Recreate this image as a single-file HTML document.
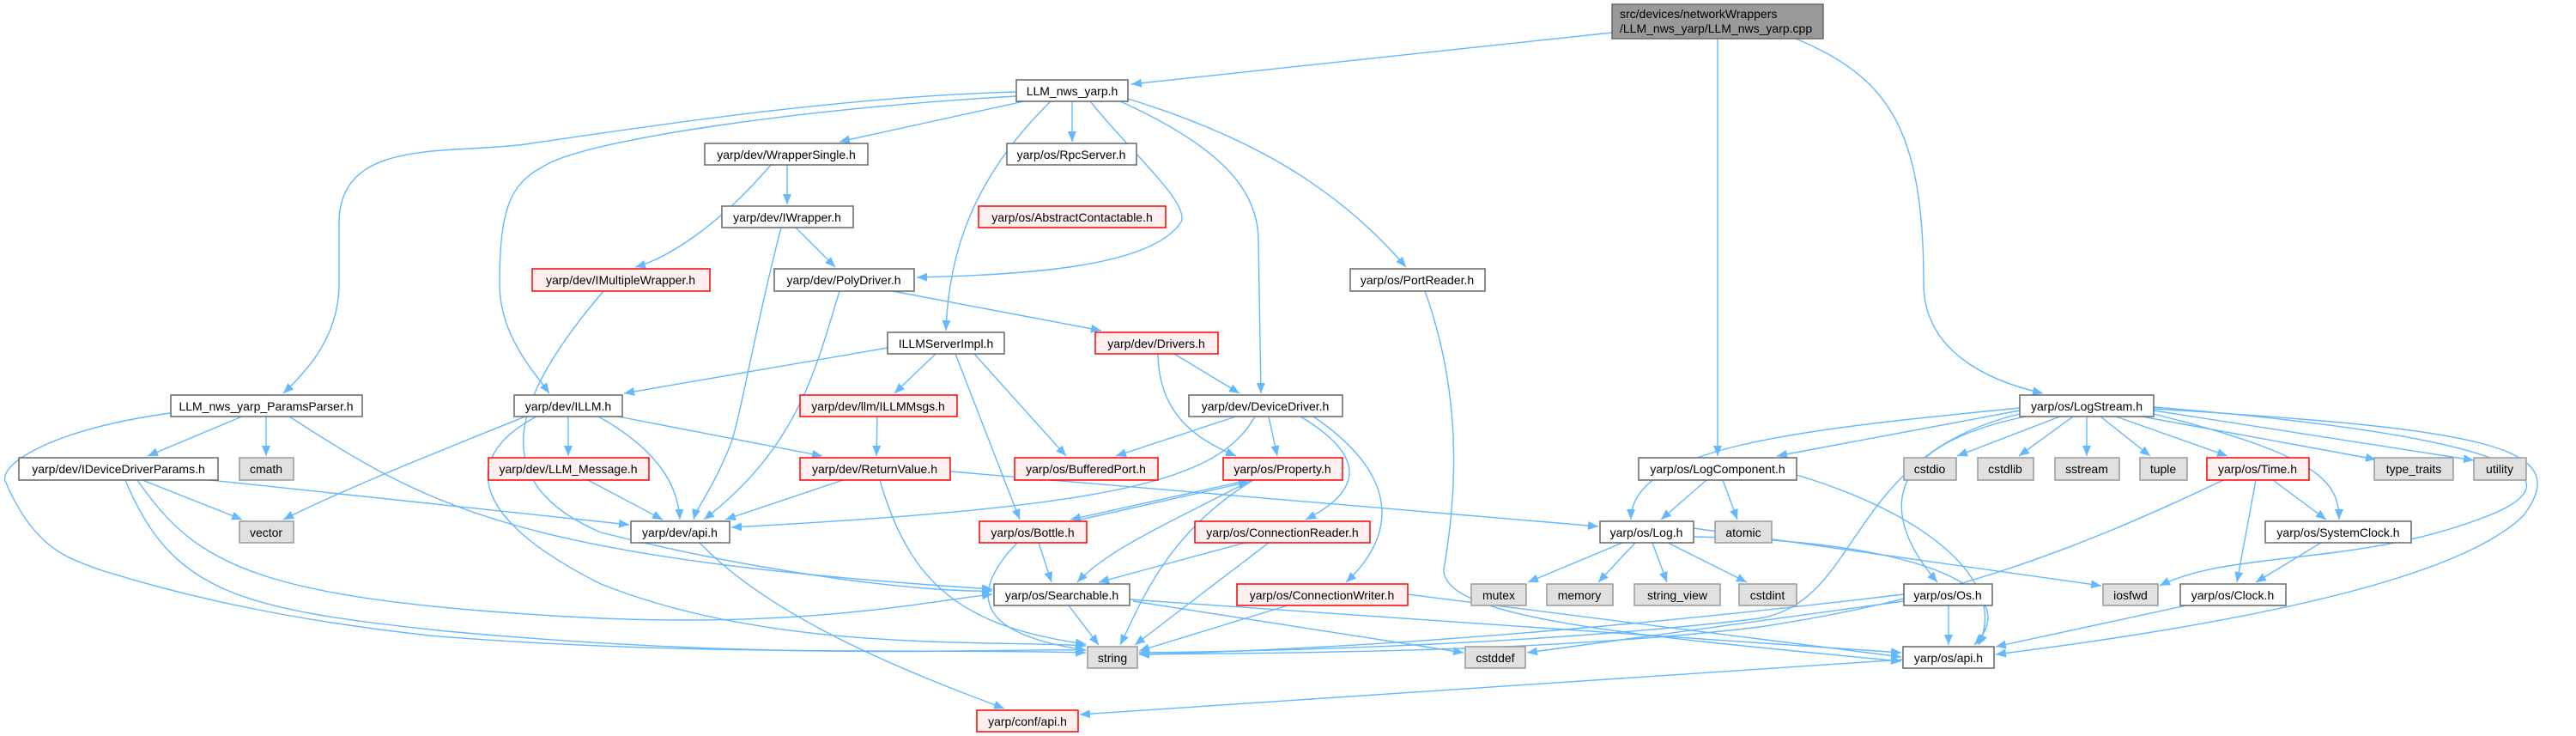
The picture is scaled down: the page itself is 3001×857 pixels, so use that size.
<!DOCTYPE html>
<html><head><meta charset="utf-8"><style>
html,body{margin:0;padding:0;background:#fff;}
svg{display:block;}
text{font-family:"Liberation Sans",sans-serif;font-size:14px;fill:#000;}
.e{fill:none;stroke:#63b8ff;stroke-width:1.4;marker-end:url(#a);}
.n rect{fill:#fff;stroke:#666;stroke-width:1.5;}
.r rect{fill:#fff0f0;stroke:#f00;stroke-width:1.5;}
.g rect{fill:#e0e0e0;stroke:#999;stroke-width:1.5;}
</style></head><body>
<svg width="3001" height="857" viewBox="0 0 3001 857" xmlns="http://www.w3.org/2000/svg">
<defs><marker id="a" markerUnits="userSpaceOnUse" markerWidth="14" markerHeight="12" refX="12" refY="5" orient="auto"><path d="M0,0 L12,5 L0,10 z" fill="#63b8ff"/></marker></defs>
<g>
<!-- main -->
<path class="e" d="M1878,38 L1318,98"/>
<path class="e" d="M2001,45 L2001,531"/>
<path class="e" d="M2092,45 C2200,90 2241,150 2241,330 C2241,400 2300,440 2380,458"/>
<!-- LLM_nws_yarp.h -->
<path class="e" d="M1184,107 C1000,112 800,140 612,168 C520,180 395,160 395,260 L395,330 C395,390 360,430 330,458"/>
<path class="e" d="M1184,112 C950,125 700,160 640,190 C600,210 582,230 582,330 C582,390 620,430 640,458"/>
<path class="e" d="M1193,118 L978,165"/>
<path class="e" d="M1249,118 L1249,165"/>
<path class="e" d="M1224,118 C1130,210 1105,300 1102,385"/>
<path class="e" d="M1270,118 C1320,180 1390,240 1375,260 C1340,310 1200,320 1068,323"/>
<path class="e" d="M1305,118 C1420,170 1466,220 1466,280 L1469,458"/>
<path class="e" d="M1314,115 C1460,160 1560,220 1638,311"/>
<!-- WrapperSingle -->
<path class="e" d="M917,192 L917,238"/>
<path class="e" d="M898,192 C840,260 780,300 740,311"/>
<!-- IWrapper -->
<path class="e" d="M927,265 L973,311"/>
<path class="e" d="M910,265 C880,380 860,500 850,520 C830,570 812,590 808,605"/>
<!-- IMultipleWrapper -->
<path class="e" d="M703,339 C600,460 560,560 700,620 C900,670 1080,690 1156,688"/>
<!-- PolyDriver -->
<path class="e" d="M1040,339 L1283,385"/>
<path class="e" d="M978,339 C950,430 930,520 820,605"/>
<!-- ParamsParser -->
<path class="e" d="M282,485 L172,531"/>
<path class="e" d="M310,485 L310,531"/>
<path class="e" d="M337,485 C500,590 600,650 1156,686"/>
<path class="e" d="M198,481 C60,500 0,540 6,560 C40,640 80,650 115,663 C200,690 320,720 500,740 C800,765 1100,755 1265,760"/>
<!-- IDeviceDriverParams -->
<path class="e" d="M166,559 L282,605"/>
<path class="e" d="M245,559 L733,611"/>
<path class="e" d="M160,559 C230,660 300,700 700,720 C950,730 1080,700 1156,692"/>
<path class="e" d="M146,559 C200,690 280,710 520,735 C900,770 1150,755 1265,757"/>
<!-- ILLM -->
<path class="e" d="M612,485 C500,530 400,570 330,605"/>
<path class="e" d="M662,485 L662,531"/>
<path class="e" d="M697,485 C760,520 790,560 792,605"/>
<path class="e" d="M720,485 L958,531"/>
<path class="e" d="M625,485 C540,530 540,600 700,680 C900,760 1150,745 1265,752"/>
<!-- LLM_Message -->
<path class="e" d="M685,559 L772,605"/>
<!-- ReturnValue -->
<path class="e" d="M982,559 L845,605"/>
<path class="e" d="M1107,549 L1862,613"/>
<path class="e" d="M1025,559 C1060,680 1120,730 1265,750"/>
<!-- ILLMMsgs -->
<path class="e" d="M1022,485 L1021,531"/>
<!-- ILLMServerImpl -->
<path class="e" d="M1034,405 L727,458"/>
<path class="e" d="M1090,412 L1042,458"/>
<path class="e" d="M1113,412 L1188,605"/>
<path class="e" d="M1135,412 L1242,531"/>
<!-- Drivers -->
<path class="e" d="M1368,412 L1444,458"/>
<path class="e" d="M1349,412 C1350,480 1390,510 1440,531"/>
<!-- DeviceDriver -->
<path class="e" d="M1440,485 L1300,531"/>
<path class="e" d="M1462,485 C1420,560 1300,590 852,614"/>
<path class="e" d="M1478,485 L1488,531"/>
<path class="e" d="M1515,485 C1590,530 1590,570 1521,605"/>
<path class="e" d="M1530,485 C1640,560 1620,630 1568,678"/>
<!-- Property -->
<path class="e" d="M1455,559 L1247,605"/>
<path class="e" d="M1250,607 L1455,561"/>
<path class="e" d="M1458,559 C1360,610 1290,640 1255,678"/>
<path class="e" d="M1460,559 C1360,620 1330,700 1305,751"/>
<!-- Bottle -->
<path class="e" d="M1210,632 L1225,678"/>
<path class="e" d="M1185,632 C1120,700 1150,740 1265,757"/>
<!-- ConnectionReader -->
<path class="e" d="M1450,632 L1280,678"/>
<path class="e" d="M1478,632 L1322,751"/>
<!-- Searchable -->
<path class="e" d="M1245,705 L1280,751"/>
<path class="e" d="M1320,700 L1705,760"/>
<path class="e" d="M1316,698 L2215,760"/>
<!-- ConnectionWriter -->
<path class="e" d="M1500,705 L1327,758"/>
<path class="e" d="M1640,692 L2215,765"/>
<!-- dev/api -->
<path class="e" d="M815,632 C900,720 1050,780 1170,825"/>
<!-- PortReader -->
<path class="e" d="M1660,339 C1700,450 1700,560 1682,663 C1680,720 1900,740 2215,770"/>
<!-- LogComponent -->
<path class="e" d="M1988,559 L1935,605"/>
<path class="e" d="M2007,559 L2024,605"/>
<path class="e" d="M2093,553 C2250,600 2340,680 2305,751"/>
<!-- Log.h -->
<path class="e" d="M1890,632 L1780,678"/>
<path class="e" d="M1905,632 L1862,678"/>
<path class="e" d="M1925,632 L1942,678"/>
<path class="e" d="M1943,632 L2035,678"/>
<path class="e" d="M1973,615 L2448,682"/>
<path class="e" d="M1973,625 C2250,630 2360,690 2300,751"/>
<!-- LogStream -->
<path class="e" d="M2353,478 L2070,531"/>
<path class="e" d="M2353,475 C2100,500 1900,520 1900,605"/>
<path class="e" d="M2400,485 L2280,531"/>
<path class="e" d="M2415,485 L2352,531"/>
<path class="e" d="M2431,485 L2431,531"/>
<path class="e" d="M2447,485 L2505,531"/>
<path class="e" d="M2465,485 L2595,531"/>
<path class="e" d="M2495,485 L2768,535"/>
<path class="e" d="M2509,478 L2882,536"/>
<path class="e" d="M2509,482 C2700,530 2725,560 2725,605"/>
<path class="e" d="M2360,485 C2190,520 2190,600 2257,678"/>
<path class="e" d="M2353,482 C2150,530 2170,700 2050,720 C1800,750 1500,758 1327,760"/>
<path class="e" d="M2509,476 C2900,500 3000,520 2940,600 C2850,690 2500,740 2325,762"/>
<path class="e" d="M2509,474 C2950,510 3000,560 2900,600 C2750,660 2600,640 2516,682"/>
<!-- Time -->
<path class="e" d="M2590,559 C2400,650 2250,700 2050,730 C1800,760 1500,760 1327,762"/>
<path class="e" d="M2628,559 L2606,678"/>
<path class="e" d="M2648,559 L2710,605"/>
<!-- SystemClock -->
<path class="e" d="M2704,632 L2628,678"/>
<!-- Clock -->
<path class="e" d="M2547,705 L2325,753"/>
<!-- Os.h -->
<path class="e" d="M2270,705 L2270,751"/>
<path class="e" d="M2218,692 C1900,730 1600,755 1327,762"/>
<path class="e" d="M2218,700 L1779,760"/>
<!-- os/api -->
<path class="e" d="M2217,768 L1258,832"/>
</g>

<!-- nodes -->
<g><rect x="1878" y="5" width="246" height="40" fill="#999" stroke="#666" stroke-width="1.5"/>
<text x="1887" y="21">src/devices/networkWrappers</text><text x="1887" y="38">/LLM_nws_yarp/LLM_nws_yarp.cpp</text></g>

<g class="n"><rect x="1184" y="93" width="130" height="25"/><text x="1249" y="111" text-anchor="middle">LLM_nws_yarp.h</text></g>
<g class="n"><rect x="821" y="167" width="190" height="25"/><text x="916" y="185" text-anchor="middle">yarp/dev/WrapperSingle.h</text></g>
<g class="n"><rect x="1173" y="167" width="151" height="25"/><text x="1248" y="185" text-anchor="middle">yarp/os/RpcServer.h</text></g>
<g class="n"><rect x="841" y="240" width="153" height="25"/><text x="917" y="258" text-anchor="middle">yarp/dev/IWrapper.h</text></g>
<g class="r"><rect x="1140" y="240" width="218" height="25"/><text x="1249" y="258" text-anchor="middle">yarp/os/AbstractContactable.h</text></g>
<g class="r"><rect x="620" y="313" width="207" height="26"/><text x="723" y="331" text-anchor="middle">yarp/dev/IMultipleWrapper.h</text></g>
<g class="n"><rect x="902" y="313" width="163" height="26"/><text x="983" y="331" text-anchor="middle">yarp/dev/PolyDriver.h</text></g>
<g class="n"><rect x="1573" y="313" width="157" height="26"/><text x="1651" y="331" text-anchor="middle">yarp/os/PortReader.h</text></g>
<g class="n"><rect x="1034" y="387" width="136" height="25"/><text x="1102" y="405" text-anchor="middle">ILLMServerImpl.h</text></g>
<g class="r"><rect x="1276" y="387" width="143" height="25"/><text x="1347" y="405" text-anchor="middle">yarp/dev/Drivers.h</text></g>

<g class="n"><rect x="199" y="460" width="223" height="25"/><text x="310" y="478" text-anchor="middle">LLM_nws_yarp_ParamsParser.h</text></g>
<g class="n"><rect x="599" y="460" width="126" height="25"/><text x="662" y="478" text-anchor="middle">yarp/dev/ILLM.h</text></g>
<g class="r"><rect x="932" y="460" width="183" height="25"/><text x="1023" y="478" text-anchor="middle">yarp/dev/llm/ILLMMsgs.h</text></g>
<g class="n"><rect x="1385" y="460" width="179" height="25"/><text x="1474" y="478" text-anchor="middle">yarp/dev/DeviceDriver.h</text></g>
<g class="n"><rect x="2353" y="460" width="156" height="25"/><text x="2431" y="478" text-anchor="middle">yarp/os/LogStream.h</text></g>

<g class="n"><rect x="22" y="533" width="232" height="26"/><text x="138" y="551" text-anchor="middle">yarp/dev/IDeviceDriverParams.h</text></g>
<g class="g"><rect x="279" y="533" width="63" height="26"/><text x="310" y="551" text-anchor="middle">cmath</text></g>
<g class="r"><rect x="569" y="533" width="187" height="26"/><text x="662" y="551" text-anchor="middle">yarp/dev/LLM_Message.h</text></g>
<g class="r"><rect x="932" y="533" width="175" height="26"/><text x="1019" y="551" text-anchor="middle">yarp/dev/ReturnValue.h</text></g>
<g class="r"><rect x="1182" y="533" width="167" height="26"/><text x="1265" y="551" text-anchor="middle">yarp/os/BufferedPort.h</text></g>
<g class="r"><rect x="1425" y="533" width="139" height="26"/><text x="1494" y="551" text-anchor="middle">yarp/os/Property.h</text></g>
<g class="n"><rect x="1909" y="533" width="184" height="26"/><text x="2001" y="551" text-anchor="middle">yarp/os/LogComponent.h</text></g>
<g class="g"><rect x="2218" y="533" width="61" height="26"/><text x="2248" y="551" text-anchor="middle">cstdio</text></g>
<g class="g"><rect x="2304" y="533" width="65" height="26"/><text x="2336" y="551" text-anchor="middle">cstdlib</text></g>
<g class="g"><rect x="2394" y="533" width="75" height="26"/><text x="2431" y="551" text-anchor="middle">sstream</text></g>
<g class="g"><rect x="2493" y="533" width="55" height="26"/><text x="2520" y="551" text-anchor="middle">tuple</text></g>
<g class="r"><rect x="2571" y="533" width="119" height="26"/><text x="2630" y="551" text-anchor="middle">yarp/os/Time.h</text></g>
<g class="g"><rect x="2766" y="533" width="92" height="26"/><text x="2812" y="551" text-anchor="middle">type_traits</text></g>
<g class="g"><rect x="2882" y="533" width="61" height="26"/><text x="2912" y="551" text-anchor="middle">utility</text></g>

<g class="g"><rect x="279" y="607" width="63" height="25"/><text x="310" y="625" text-anchor="middle">vector</text></g>
<g class="n"><rect x="735" y="607" width="115" height="25"/><text x="792" y="625" text-anchor="middle">yarp/dev/api.h</text></g>
<g class="r"><rect x="1141" y="607" width="125" height="25"/><text x="1203" y="625" text-anchor="middle">yarp/os/Bottle.h</text></g>
<g class="r"><rect x="1392" y="607" width="204" height="25"/><text x="1494" y="625" text-anchor="middle">yarp/os/ConnectionReader.h</text></g>
<g class="n"><rect x="1864" y="607" width="109" height="25"/><text x="1918" y="625" text-anchor="middle">yarp/os/Log.h</text></g>
<g class="g"><rect x="1998" y="607" width="66" height="25"/><text x="2031" y="625" text-anchor="middle">atomic</text></g>
<g class="n"><rect x="2639" y="607" width="170" height="25"/><text x="2724" y="625" text-anchor="middle">yarp/os/SystemClock.h</text></g>

<g class="n"><rect x="1158" y="680" width="158" height="25"/><text x="1237" y="698" text-anchor="middle">yarp/os/Searchable.h</text></g>
<g class="r"><rect x="1441" y="680" width="199" height="25"/><text x="1540" y="698" text-anchor="middle">yarp/os/ConnectionWriter.h</text></g>
<g class="g"><rect x="1714" y="680" width="64" height="25"/><text x="1746" y="698" text-anchor="middle">mutex</text></g>
<g class="g"><rect x="1802" y="680" width="77" height="25"/><text x="1840" y="698" text-anchor="middle">memory</text></g>
<g class="g"><rect x="1904" y="680" width="100" height="25"/><text x="1954" y="698" text-anchor="middle">string_view</text></g>
<g class="g"><rect x="2026" y="680" width="67" height="25"/><text x="2059" y="698" text-anchor="middle">cstdint</text></g>
<g class="n"><rect x="2218" y="680" width="103" height="25"/><text x="2269" y="698" text-anchor="middle">yarp/os/Os.h</text></g>
<g class="g"><rect x="2450" y="680" width="64" height="25"/><text x="2482" y="698" text-anchor="middle">iosfwd</text></g>
<g class="n"><rect x="2540" y="680" width="123" height="25"/><text x="2601" y="698" text-anchor="middle">yarp/os/Clock.h</text></g>

<g class="g"><rect x="1267" y="753" width="58" height="25"/><text x="1296" y="771" text-anchor="middle">string</text></g>
<g class="g"><rect x="1707" y="753" width="70" height="25"/><text x="1742" y="771" text-anchor="middle">cstddef</text></g>
<g class="n"><rect x="2217" y="753" width="106" height="25"/><text x="2270" y="771" text-anchor="middle">yarp/os/api.h</text></g>
<g class="r"><rect x="1138" y="827" width="118" height="25"/><text x="1197" y="845" text-anchor="middle">yarp/conf/api.h</text></g>
</svg>
</body></html>
